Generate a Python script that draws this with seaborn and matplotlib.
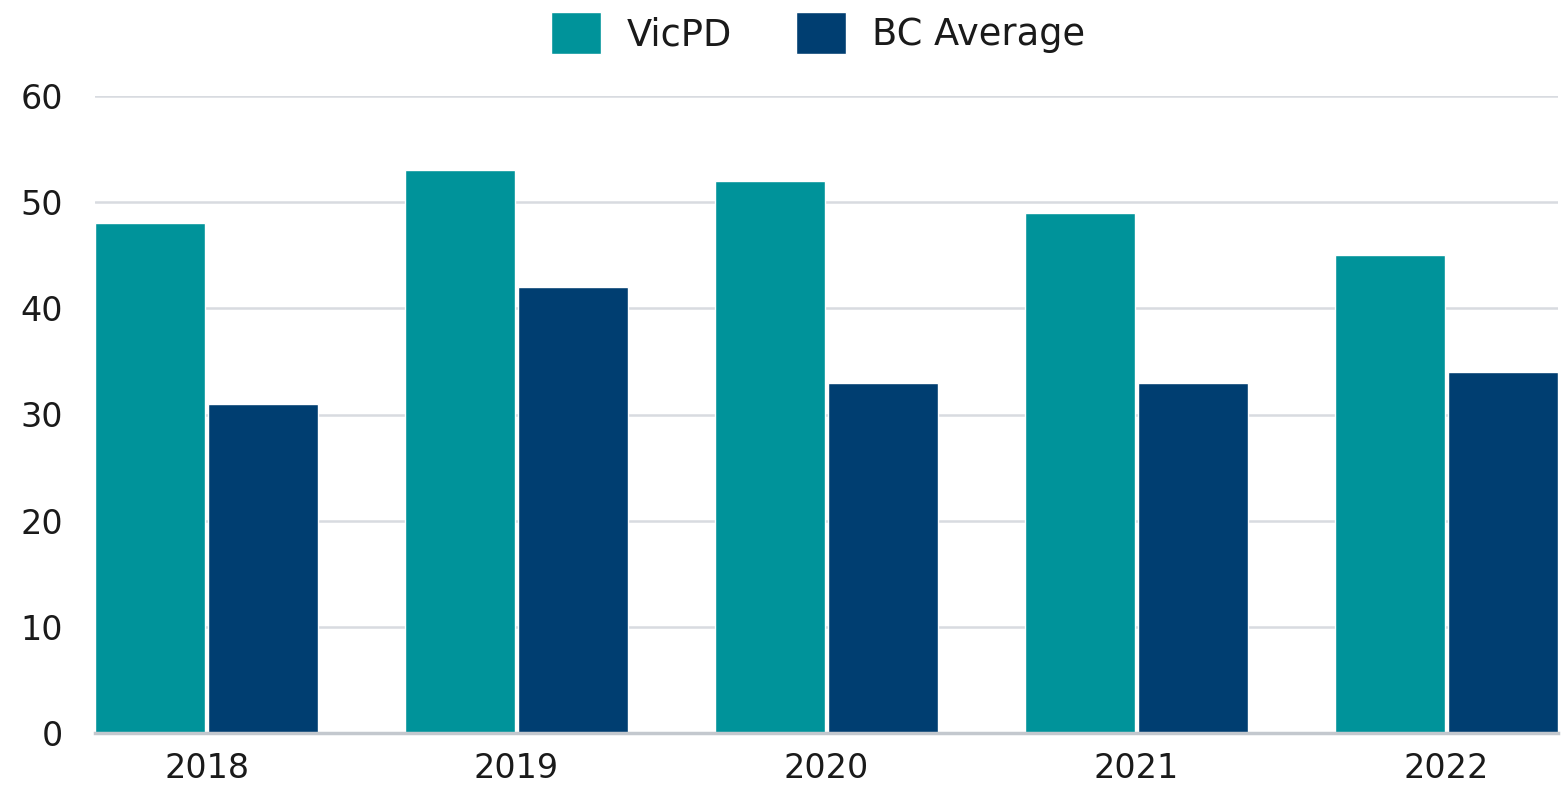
import matplotlib
matplotlib.use("Agg")
import matplotlib.pyplot as plt
import seaborn as sns
import pandas as pd
from matplotlib.patches import Patch

years = ["2018", "2019", "2020", "2021", "2022"]
vicpd = [48, 53, 52, 49, 45]
bc_average = [31, 42, 33, 33, 34]
series_names = ["VicPD", "BC Average"]
colors = ["#00939a", "#003e71"]

df = pd.DataFrame({
    "Year": years * 2,
    "Value": vicpd + bc_average,
    "Series": [series_names[0]] * len(years) + [series_names[1]] * len(years),
})

sns.set_theme(style="white")
plt.rcParams['font.family'] = ['DejaVu Sans']

fig = plt.figure(figsize=(15.63, 7.9), dpi=100)
ax = fig.add_axes([95/1563, 1-733/790, (1558-95)/1563, (733-96)/790])

sns.barplot(data=df, x="Year", y="Value", hue="Series", palette=colors,
            width=0.73, gap=0.03, ax=ax, legend=False, saturation=1)

ax.set_xlim(-0.36, 4.36)
ax.set_ylim(0, 60)
ax.set_yticks([0, 10, 20, 30, 40, 50, 60])
ax.set_xlabel("")
ax.set_ylabel("")
ax.grid(axis="y", color="#d8dbe0", linewidth=1.8)
ax.set_axisbelow(True)
for s in ["top", "right", "left"]:
    ax.spines[s].set_visible(False)
ax.spines["bottom"].set_color("#c3c8ce")
ax.spines["bottom"].set_linewidth(2.5)
ax.tick_params(axis="both", length=0, labelsize=24, colors="#1a1a1a")
ax.tick_params(axis="y", pad=23)
ax.tick_params(axis="x", pad=14)

handles = [Patch(facecolor=c, label=n) for c, n in zip(colors, series_names)]
fig.legend(handles=handles, loc="center", bbox_to_anchor=(818/1563, 1-33/790),
           ncol=2, frameon=False, fontsize=26.5, handlelength=1.35, handleheight=1.35,
           handletextpad=0.7, columnspacing=1.75, labelcolor="#1a1a1a")

fig.savefig("out.png", dpi=100, facecolor="white")
